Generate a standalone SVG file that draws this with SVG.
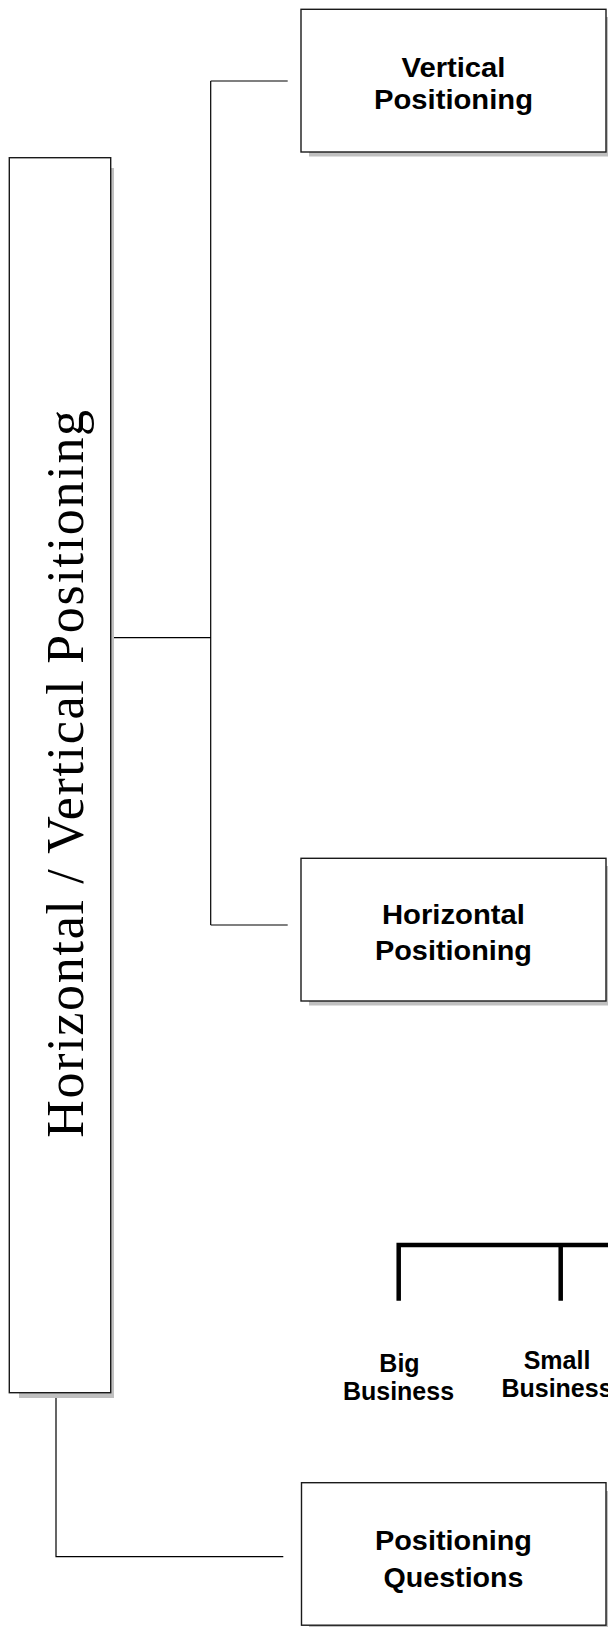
<svg xmlns="http://www.w3.org/2000/svg" width="608" height="1627" viewBox="0 0 608 1627">
<style>
.box{fill:#fff;stroke:#1a1a1a;stroke-width:1.4}
.shadow{fill:#c0c0c0}
.conn{fill:none;stroke:#000;stroke-width:1.2}
.thick{fill:none;stroke:#000;stroke-width:4.5}
.lbl{font-family:"Liberation Sans",Arial,sans-serif;font-weight:bold;fill:#000;text-anchor:middle}
.big{font-size:27.5px}
.small{font-size:25px}
.side{font-family:"Liberation Serif","Times New Roman",serif;font-size:52px;letter-spacing:1.7px;fill:#000;text-anchor:middle}
</style>
<rect width="608" height="1627" fill="#fff"/>
<g id="connectors">
<path class="conn" d="M114 637.7 H210.7 M210.7 81 V925 M210.7 81 H287.7 M210.7 925 H287.7"/>
<path class="conn" d="M56 1397.7 V1556.7 H283.3"/>
</g>
<g id="node-main">
<rect class="shadow" x="19" y="168" width="95" height="1230"/>
<rect class="box" x="9.3" y="157.7" width="101.4" height="1235"/>
<text class="side" transform="translate(83,773) rotate(-90)">Horizontal / Vertical Positioning</text>
</g>
<g id="node-vertical">
<rect class="shadow" x="309" y="17" width="302" height="139.5"/>
<rect class="box" x="301" y="9.3" width="305" height="142.7"/>
<text class="lbl big" x="453.5" y="76.5" textLength="104" lengthAdjust="spacingAndGlyphs">Vertical</text>
<text class="lbl big" x="453.5" y="109" textLength="159" lengthAdjust="spacingAndGlyphs">Positioning</text>
</g>
<g id="node-horizontal">
<rect class="shadow" x="309" y="866" width="302" height="139.5"/>
<rect class="box" x="301" y="858.3" width="305" height="142.7"/>
<text class="lbl big" x="453.5" y="923.5" textLength="143" lengthAdjust="spacingAndGlyphs">Horizontal</text>
<text class="lbl big" x="453.5" y="959.5" textLength="157" lengthAdjust="spacingAndGlyphs">Positioning</text>
</g>
<g id="node-business">
<path class="thick" d="M398.7 1300.7 V1245 H612 M560.7 1242.7 V1300.7"/>
<text class="lbl small" x="399.5" y="1371.5">Big</text>
<text class="lbl small" x="398.5" y="1399.5">Business</text>
<text class="lbl small" x="557" y="1369">Small</text>
<text class="lbl small" x="557" y="1397">Business</text>
</g>
<g id="node-questions">
<rect class="shadow" x="309" y="1491" width="302" height="138"/>
<rect class="box" x="301.5" y="1482.7" width="304.5" height="142.5"/>
<text class="lbl big" x="453.5" y="1550" textLength="157" lengthAdjust="spacingAndGlyphs">Positioning</text>
<text class="lbl big" x="453.5" y="1586.5" textLength="140" lengthAdjust="spacingAndGlyphs">Questions</text>
</g>
</svg>
